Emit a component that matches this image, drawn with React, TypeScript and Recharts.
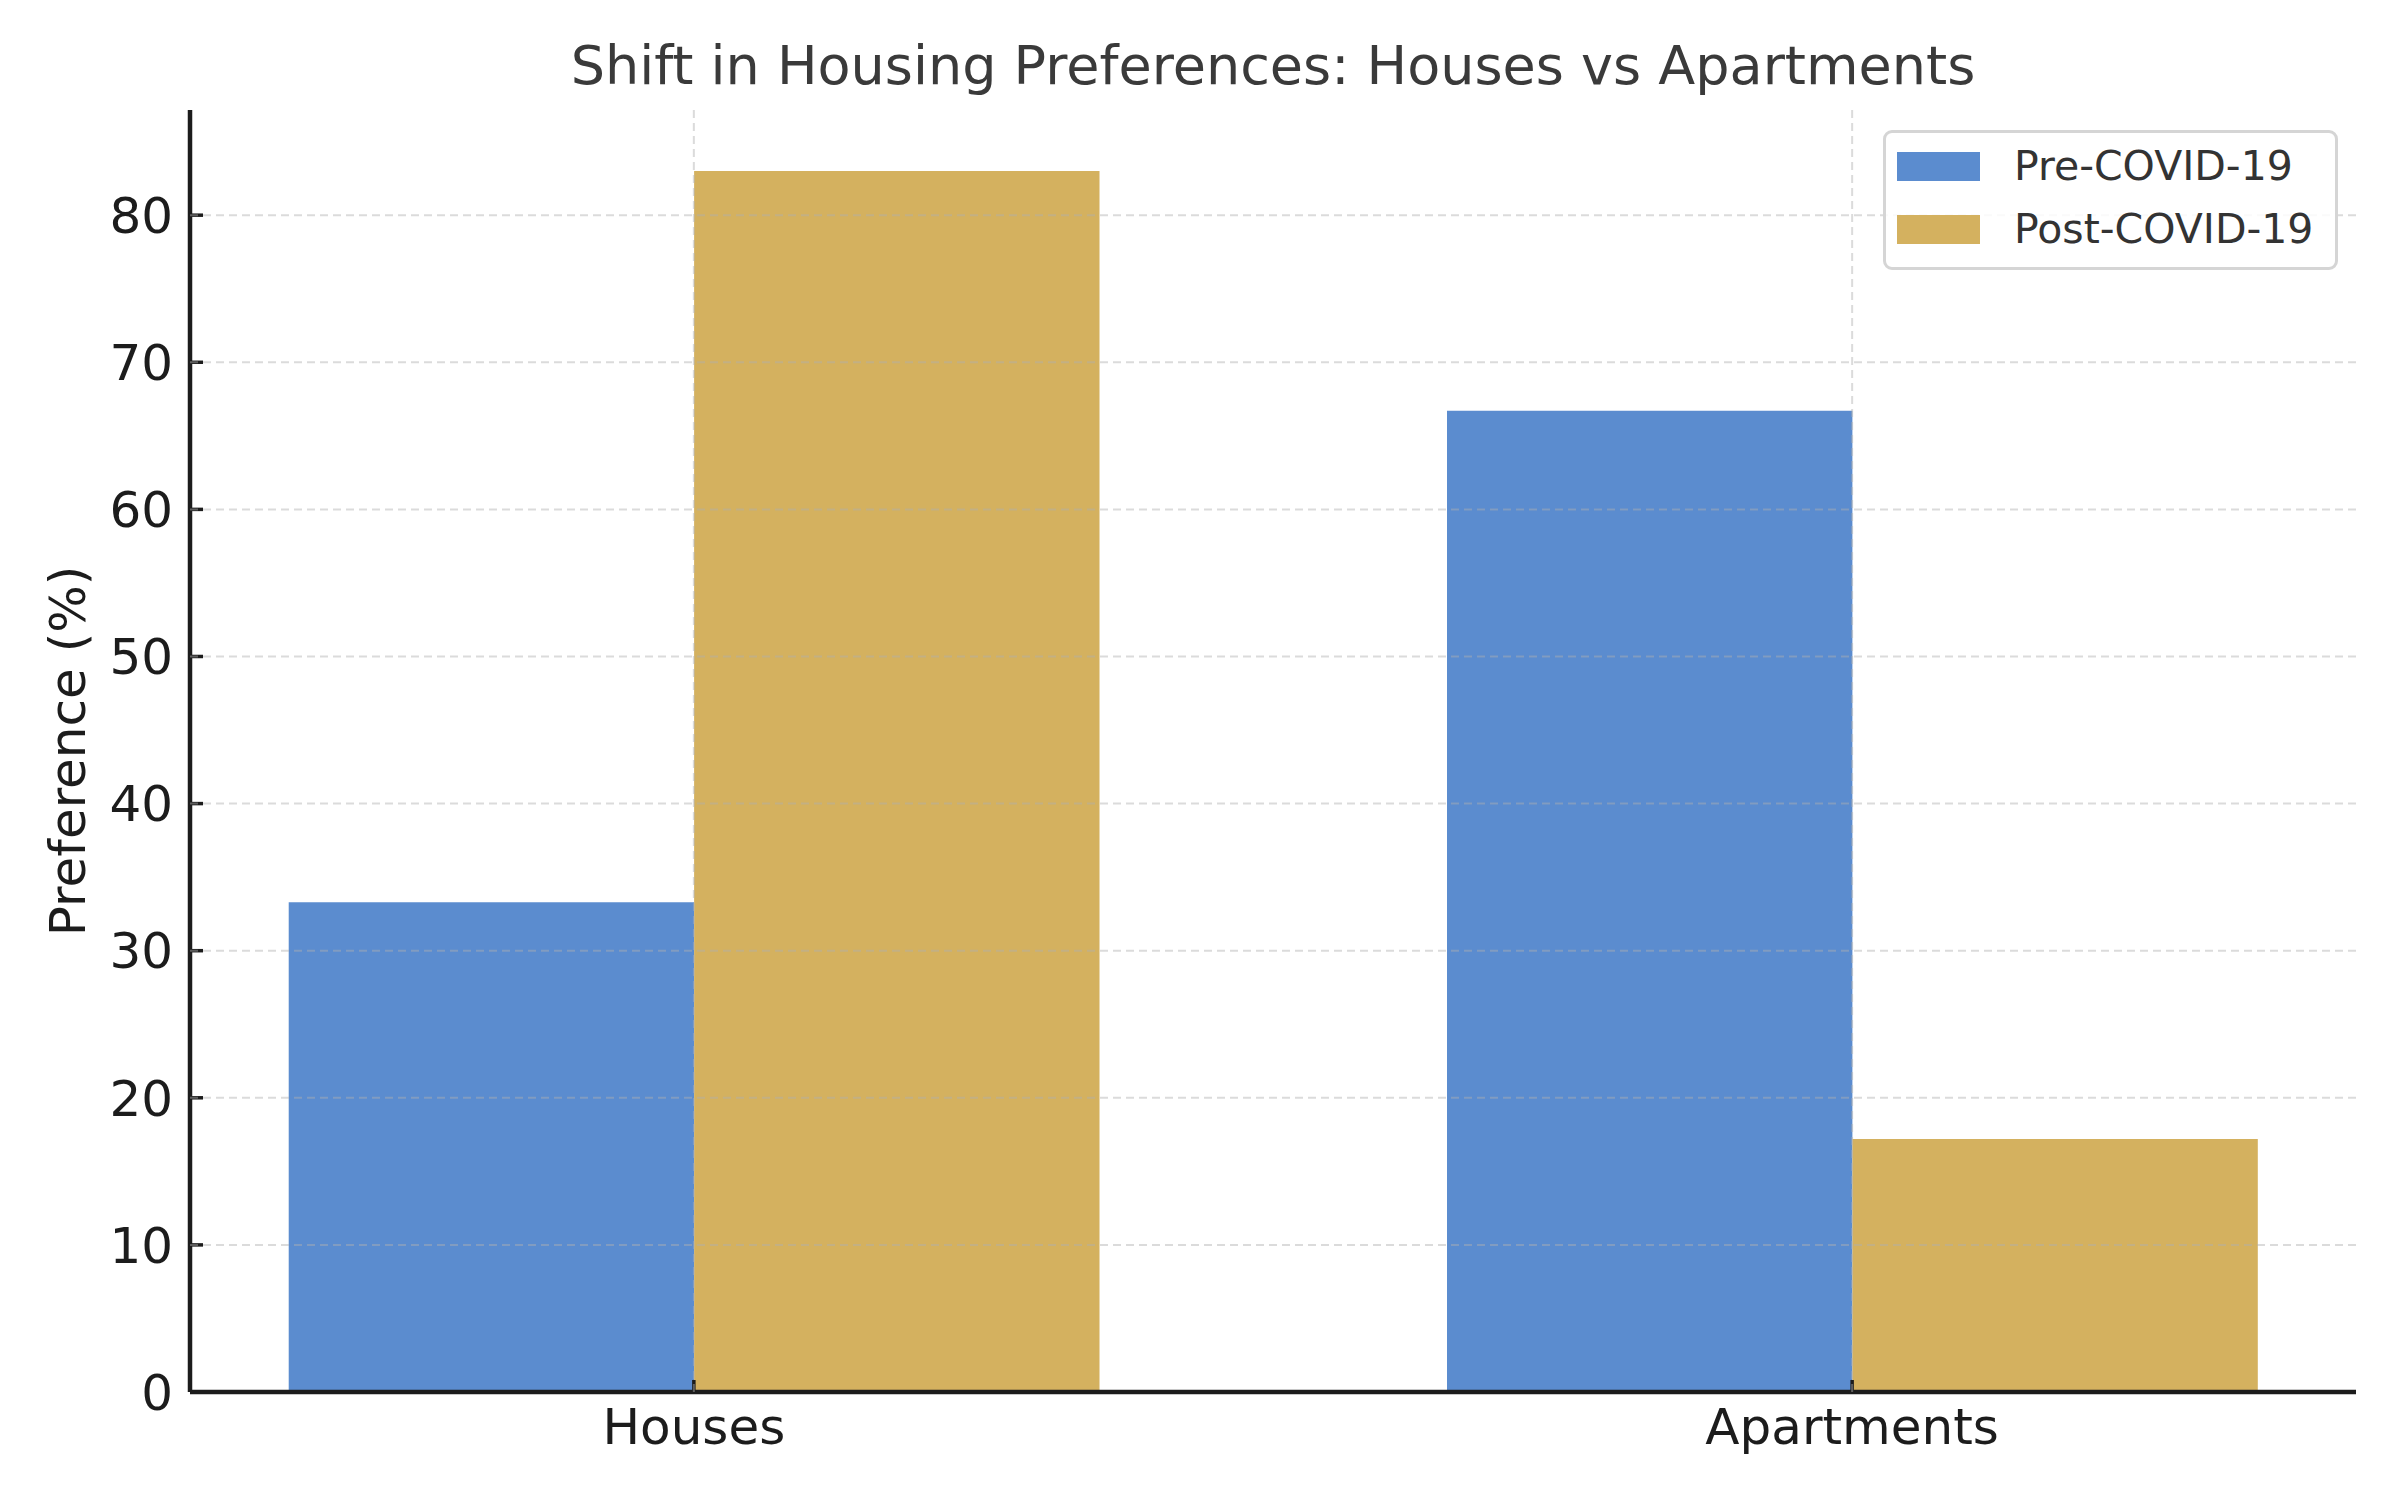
import { Bar, BarChart, CartesianGrid, Legend, XAxis, YAxis } from "recharts";

const categories = ["Houses", "Apartments"];
const seriesNames = ["Pre-COVID-19", "Post-COVID-19"];
const preCovid = [33.3, 66.7];
const postCovid = [83, 17.2];
const yTicks = [0, 10, 20, 30, 40, 50, 60, 70, 80];
const xTicks = [0, 1];

const data = categories.map((name, i) => ({
  pos: i,
  name,
  pre: preCovid[i],
  post: postCovid[i]
}));

const FONT = "'DejaVu Sans', sans-serif";
const BLUE = "#5b8ccf";
const GOLD = "#d4b15f";
const INK = "#1c1c1c";

// matplotlib-like layout: bar width 0.35, 5% margins
const X_DOMAIN: [number, number] = [-0.435, 1.435];
const MARGIN = { top: 110, right: 44, left: 40, bottom: 28 };
const Y_AXIS_W = 150;
const X_AXIS_H = 80;
const plotWidth = 2400 - MARGIN.left - MARGIN.right - Y_AXIS_W;
const barSize = (plotWidth * 0.35) / (X_DOMAIN[1] - X_DOMAIN[0]);

function LegendBox({ payload }: any) {
  const items = [...(payload || [])].sort(
    (a: any, b: any) => seriesNames.indexOf(a.value) - seriesNames.indexOf(b.value)
  );
  return (
    <div
      style={{
        width: 455,
        height: 140,
        boxSizing: "border-box",
        border: "3px solid #d5d5d5",
        borderRadius: 9,
        background: "rgba(255,255,255,0.85)",
        padding: "1.5px 0 0 11px",
        fontFamily: FONT,
        fontSize: 41,
        color: "#333"
      }}
    >
      {items.map((entry: any) => (
        <div key={entry.value} style={{ display: "flex", alignItems: "center", height: 63 }}>
          <span
            style={{
              display: "inline-block",
              width: 83,
              height: 29,
              background: entry.color,
              marginRight: 34
            }}
          />
          <span style={{ lineHeight: 1 }}>{entry.value}</span>
        </div>
      ))}
    </div>
  );
}

export default function App() {
  return (
    <div
      style={{
        position: "absolute",
        left: 0,
        top: 0,
        width: 2400,
        height: 1500,
        background: "#fff",
        fontFamily: FONT
      }}
    >
      <div
        style={{
          position: "absolute",
          left: MARGIN.left + Y_AXIS_W,
          width: plotWidth,
          top: 39,
          textAlign: "center",
          fontSize: 54,
          lineHeight: 1,
          color: "#3a3a3a",
          whiteSpace: "nowrap",
          zIndex: 2
        }}
      >
        Shift in Housing Preferences: Houses vs Apartments
      </div>
      <BarChart width={2400} height={1500} data={data} margin={MARGIN} barGap={0}>
        <XAxis
          dataKey="pos"
          type="number"
          domain={X_DOMAIN}
          ticks={xTicks}
          tickFormatter={(v: number) => categories[v] ?? ""}
          height={X_AXIS_H}
          axisLine={{ stroke: INK, strokeWidth: 4.5 }}
          tickLine={{ stroke: INK, strokeWidth: 3.5 }}
          tickSize={-12}
          tickMargin={28.5}
          tick={{ fill: INK, fontSize: 50, fontFamily: FONT }}
          allowDataOverflow
        />
        <YAxis
          type="number"
          domain={[0, 87.15]}
          ticks={yTicks}
          width={Y_AXIS_W}
          axisLine={{ stroke: INK, strokeWidth: 4.5 }}
          tickLine={{ stroke: INK, strokeWidth: 3.5 }}
          tickSize={-13}
          tickMargin={30}
          tick={{ fill: INK, fontSize: 50, fontFamily: FONT }}
          allowDataOverflow
          label={{
            value: "Preference (%)",
            angle: -90,
            position: "insideLeft",
            offset: 27,
            style: { textAnchor: "middle", fill: INK, fontSize: 50, fontFamily: FONT }
          }}
        />
        <Bar dataKey="pre" name={seriesNames[0]} fill={BLUE} barSize={barSize} isAnimationActive={false} />
        <Bar dataKey="post" name={seriesNames[1]} fill={GOLD} barSize={barSize} isAnimationActive={false} />
        <CartesianGrid
          stroke="#b0b0b0"
          strokeOpacity={0.45}
          strokeWidth={2}
          strokeDasharray="8 5"
          horizontalValues={yTicks.slice(1)}
          verticalValues={xTicks}
          zIndex={1000}
        />
        <Legend
          layout="vertical"
          align="center"
          verticalAlign="middle"
          itemSorter={null as any}
          content={<LegendBox />}
          wrapperStyle={{ position: "absolute", left: 1883, top: 130, width: "auto", height: "auto" }}
        />
      </BarChart>
    </div>
  );
}
